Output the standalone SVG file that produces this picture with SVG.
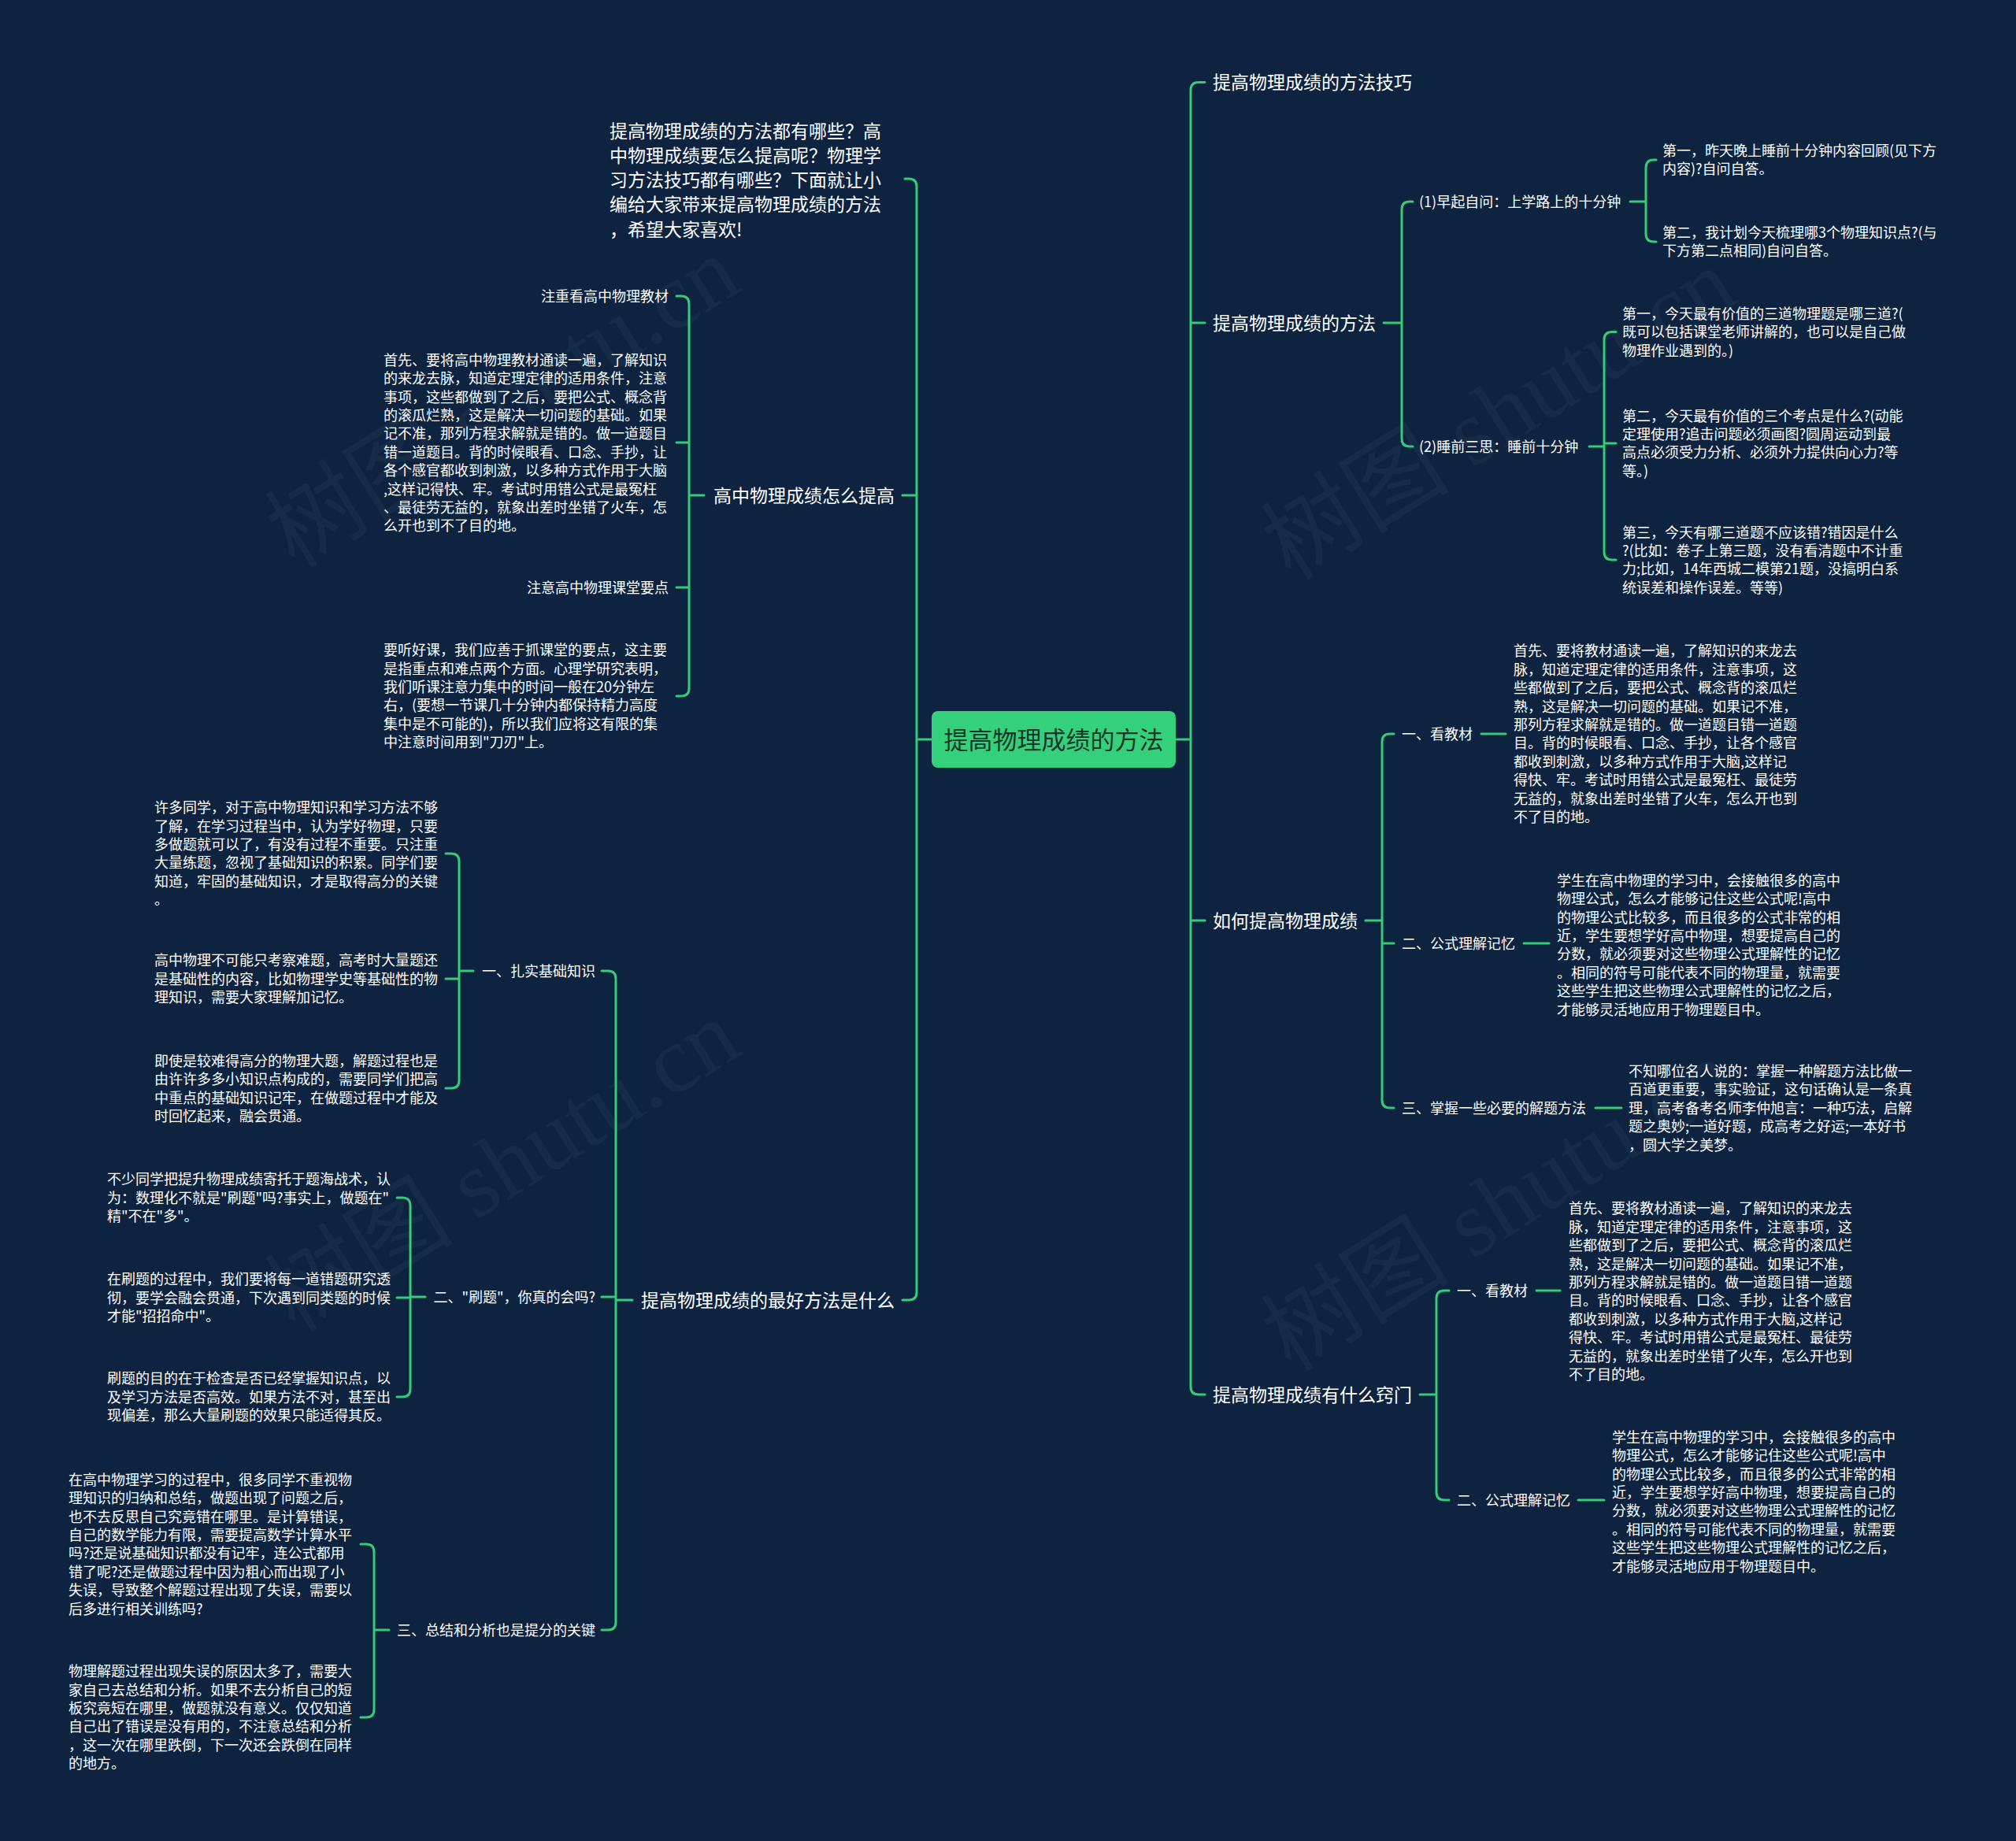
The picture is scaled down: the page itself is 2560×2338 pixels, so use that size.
<svg xmlns="http://www.w3.org/2000/svg" width="2560" height="2338" viewBox="0 0 2560 2338">
<style>
.l{fill:none;stroke:#35cc78;stroke-width:3;stroke-linecap:round}
.t{font-family:'Noto Sans CJK SC','Noto Sans',sans-serif;fill:#ffffff}
.m{font-size:23px}
.s{font-size:18px}
.e{text-anchor:end}
.w{font-family:'Liberation Serif','Noto Sans CJK SC',serif;font-size:120px;fill:#ffffff;fill-opacity:0.04;text-anchor:middle}
</style>
<rect x="0" y="0" width="2560" height="2338" fill="#0d2340"/>
<g id="watermark">
<text class="w" transform="translate(660,545) rotate(-32)">树图 shutu.cn</text>
<text class="w" transform="translate(1925,560) rotate(-32)">树图 shutu.cn</text>
<text class="w" transform="translate(660,1515) rotate(-32)">树图 shutu.cn</text>
<text class="w" transform="translate(1925,1565) rotate(-32)">树图 shutu.cn</text>
</g>
<g id="connectors">
<path class="l" d="M1493 939H1512M1512 939V114.5Q1512 104.5 1522 104.5H1530M1512 410H1530M1512 1169H1530M1512 939V1761Q1512 1771 1522 1771H1530"/>
<path class="l" d="M1183 939H1164M1164 939V237Q1164 227 1154 227H1149M1164 629H1146M1164 939V1641Q1164 1651 1154 1651H1146"/>
<path class="l" d="M1757 410H1780M1780 410V266Q1780 256 1790 256H1794M1780 410V557Q1780 567 1790 567H1794"/>
<path class="l" d="M2070 256H2090M2090 256V213Q2090 203 2100 203H2103M2090 256V297Q2090 307 2100 307H2103"/>
<path class="l" d="M2018 567H2037M2037 567V431.5Q2037 421.5 2047 421.5H2052M2037 563H2052M2037 567V701Q2037 711 2047 711H2052"/>
<path class="l" d="M1734 1169H1755M1755 1169V942Q1755 932 1765 932H1770M1755 1198H1770M1755 1169V1397Q1755 1407 1765 1407H1770"/>
<path class="l" d="M1881 932H1912M1935 1198H1967M2026 1407H2059"/>
<path class="l" d="M1803 1771H1824M1824 1771V1649Q1824 1639 1834 1639H1840M1824 1771V1895Q1824 1905 1834 1905H1840"/>
<path class="l" d="M1951 1639H1981M2004 1905H2037"/>
<path class="l" d="M894 629H875M875 629V386Q875 376 865 376H859M875 562H859M875 746H859M875 629V874Q875 884 865 884H859"/>
<path class="l" d="M803 1651H782M782 1651V1243Q782 1233 772 1233H764M782 1647H764M782 1651V2060Q782 2070 772 2070H764"/>
<path class="l" d="M601 1233H583M583 1233V1094Q583 1084 573 1084H566M583 1243H566M583 1233V1372Q583 1382 573 1382H566"/>
<path class="l" d="M540 1647H521M521 1647V1531Q521 1521 511 1521H504M521 1648H504M521 1647V1764Q521 1774 511 1774H504"/>
<path class="l" d="M494 2070H475M475 2070V1971Q475 1961 465 1961H458M475 2070V2171Q475 2181 465 2181H458"/>
</g>
<g id="root">
<rect x="1183" y="903" width="310" height="72" rx="8" fill="#35d07b"/>
<text x="1338" y="950.5" text-anchor="middle" style="font-family:'Noto Sans CJK SC','Noto Sans',sans-serif;font-size:31px;fill:#17362a">提高物理成绩的方法</text>
</g>
<g id="intro">
<text class="t m" x="774" y="174.5"><tspan x="774">提高物理成绩的方法都有哪些？高</tspan><tspan x="774" dy="31.3">中物理成绩要怎么提高呢？物理学</tspan><tspan x="774" dy="31.3">习方法技巧都有哪些？下面就让小</tspan><tspan x="774" dy="31.3">编给大家带来提高物理成绩的方法</tspan><tspan x="774" dy="31.3">，希望大家喜欢!</tspan></text>
</g>
<g id="n-gzwl">
<text class="t m e" x="1136" y="637.5">高中物理成绩怎么提高</text>
</g>
<g id="n-zzk">
<text class="t s e" x="849" y="382.7">注重看高中物理教材</text>
</g>
<g id="n-zzk-body">
<text class="t s" x="487" y="463.7"><tspan x="487">首先、要将高中物理教材通读一遍，了解知识</tspan><tspan x="487" dy="23.4">的来龙去脉，知道定理定律的适用条件，注意</tspan><tspan x="487" dy="23.4">事项，这些都做到了之后，要把公式、概念背</tspan><tspan x="487" dy="23.4">的滚瓜烂熟，这是解决一切问题的基础。如果</tspan><tspan x="487" dy="23.4">记不准，那列方程求解就是错的。做一道题目</tspan><tspan x="487" dy="23.4">错一道题目。背的时候眼看、口念、手抄，让</tspan><tspan x="487" dy="23.4">各个感官都收到刺激，以多种方式作用于大脑</tspan><tspan x="487" dy="23.4">,这样记得快、牢。考试时用错公式是最冤枉</tspan><tspan x="487" dy="23.4">、最徒劳无益的，就象出差时坐错了火车，怎</tspan><tspan x="487" dy="23.4">么开也到不了目的地。</tspan></text>
</g>
<g id="n-zyk">
<text class="t s e" x="849" y="752.7">注意高中物理课堂要点</text>
</g>
<g id="n-zyk-body">
<text class="t s" x="487" y="832.2"><tspan x="487">要听好课，我们应善于抓课堂的要点，这主要</tspan><tspan x="487" dy="23.4">是指重点和难点两个方面。心理学研究表明，</tspan><tspan x="487" dy="23.4">我们听课注意力集中的时间一般在20分钟左</tspan><tspan x="487" dy="23.4">右，(要想一节课几十分钟内都保持精力高度</tspan><tspan x="487" dy="23.4">集中是不可能的)，所以我们应将这有限的集</tspan><tspan x="487" dy="23.4">中注意时间用到"刀刃"上。</tspan></text>
</g>
<g id="n-best">
<text class="t m e" x="1136" y="1659.5">提高物理成绩的最好方法是什么</text>
</g>
<g id="n-zs">
<text class="t s e" x="756" y="1239.7">一、扎实基础知识</text>
</g>
<g id="n-zs-1">
<text class="t s" x="196" y="1032.2"><tspan x="196">许多同学，对于高中物理知识和学习方法不够</tspan><tspan x="196" dy="23.4">了解，在学习过程当中，认为学好物理，只要</tspan><tspan x="196" dy="23.4">多做题就可以了，有没有过程不重要。只注重</tspan><tspan x="196" dy="23.4">大量练题，忽视了基础知识的积累。同学们要</tspan><tspan x="196" dy="23.4">知道，牢固的基础知识，才是取得高分的关键</tspan><tspan x="196" dy="23.4">。</tspan></text>
</g>
<g id="n-zs-2">
<text class="t s" x="196" y="1226.3"><tspan x="196">高中物理不可能只考察难题，高考时大量题还</tspan><tspan x="196" dy="23.4">是基础性的内容，比如物理学史等基础性的物</tspan><tspan x="196" dy="23.4">理知识，需要大家理解加记忆。</tspan></text>
</g>
<g id="n-zs-3">
<text class="t s" x="196" y="1353.7"><tspan x="196">即使是较难得高分的物理大题，解题过程也是</tspan><tspan x="196" dy="23.4">由许许多多小知识点构成的，需要同学们把高</tspan><tspan x="196" dy="23.4">中重点的基础知识记牢，在做题过程中才能及</tspan><tspan x="196" dy="23.4">时回忆起来，融会贯通。</tspan></text>
</g>
<g id="n-st">
<text class="t s e" x="756" y="1653.7">二、"刷题"，你真的会吗?</text>
</g>
<g id="n-st-1">
<text class="t s" x="136" y="1504.3"><tspan x="136">不少同学把提升物理成绩寄托于题海战术，认</tspan><tspan x="136" dy="23.4">为：数理化不就是"刷题"吗?事实上，做题在"</tspan><tspan x="136" dy="23.4">精"不在"多"。</tspan></text>
</g>
<g id="n-st-2">
<text class="t s" x="136" y="1631.3"><tspan x="136">在刷题的过程中，我们要将每一道错题研究透</tspan><tspan x="136" dy="23.4">彻，要学会融会贯通，下次遇到同类题的时候</tspan><tspan x="136" dy="23.4">才能"招招命中"。</tspan></text>
</g>
<g id="n-st-3">
<text class="t s" x="136" y="1757.3"><tspan x="136">刷题的目的在于检查是否已经掌握知识点，以</tspan><tspan x="136" dy="23.4">及学习方法是否高效。如果方法不对，甚至出</tspan><tspan x="136" dy="23.4">现偏差，那么大量刷题的效果只能适得其反。</tspan></text>
</g>
<g id="n-zj">
<text class="t s e" x="756" y="2076.7">三、总结和分析也是提分的关键</text>
</g>
<g id="n-zj-1">
<text class="t s" x="87" y="1885.7"><tspan x="87">在高中物理学习的过程中，很多同学不重视物</tspan><tspan x="87" dy="23.4">理知识的归纳和总结，做题出现了问题之后，</tspan><tspan x="87" dy="23.4">也不去反思自己究竟错在哪里。是计算错误，</tspan><tspan x="87" dy="23.4">自己的数学能力有限，需要提高数学计算水平</tspan><tspan x="87" dy="23.4">吗?还是说基础知识都没有记牢，连公式都用</tspan><tspan x="87" dy="23.4">错了呢?还是做题过程中因为粗心而出现了小</tspan><tspan x="87" dy="23.4">失误，导致整个解题过程出现了失误，需要以</tspan><tspan x="87" dy="23.4">后多进行相关训练吗?</tspan></text>
</g>
<g id="n-zj-2">
<text class="t s" x="87" y="2129.2"><tspan x="87">物理解题过程出现失误的原因太多了，需要大</tspan><tspan x="87" dy="23.4">家自己去总结和分析。如果不去分析自己的短</tspan><tspan x="87" dy="23.4">板究竟短在哪里，做题就没有意义。仅仅知道</tspan><tspan x="87" dy="23.4">自己出了错误是没有用的，不注意总结和分析</tspan><tspan x="87" dy="23.4">，这一次在哪里跌倒，下一次还会跌倒在同样</tspan><tspan x="87" dy="23.4">的地方。</tspan></text>
</g>
<g id="n-jq">
<text class="t m" x="1540" y="113">提高物理成绩的方法技巧</text>
</g>
<g id="n-ff">
<text class="t m" x="1540" y="418.5">提高物理成绩的方法</text>
</g>
<g id="n-ff-1">
<text class="t s" x="1802" y="262.7">(1)早起自问：上学路上的十分钟</text>
</g>
<g id="n-ff-1a">
<text class="t s" x="2111" y="198"><tspan x="2111">第一，昨天晚上睡前十分钟内容回顾(见下方</tspan><tspan x="2111" dy="23.4">内容)?自问自答。</tspan></text>
</g>
<g id="n-ff-1b">
<text class="t s" x="2111" y="302"><tspan x="2111">第二，我计划今天梳理哪3个物理知识点?(与</tspan><tspan x="2111" dy="23.4">下方第二点相同)自问自答。</tspan></text>
</g>
<g id="n-ff-2">
<text class="t s" x="1802" y="573.7">(2)睡前三思：睡前十分钟</text>
</g>
<g id="n-ff-2a">
<text class="t s" x="2060" y="404.8"><tspan x="2060">第一，今天最有价值的三道物理题是哪三道?(</tspan><tspan x="2060" dy="23.4">既可以包括课堂老师讲解的，也可以是自己做</tspan><tspan x="2060" dy="23.4">物理作业遇到的。)</tspan></text>
</g>
<g id="n-ff-2b">
<text class="t s" x="2060" y="534.6"><tspan x="2060">第二，今天最有价值的三个考点是什么?(动能</tspan><tspan x="2060" dy="23.4">定理使用?追击问题必须画图?圆周运动到最</tspan><tspan x="2060" dy="23.4">高点必须受力分析、必须外力提供向心力?等</tspan><tspan x="2060" dy="23.4">等。)</tspan></text>
</g>
<g id="n-ff-2c">
<text class="t s" x="2060" y="682.6"><tspan x="2060">第三，今天有哪三道题不应该错?错因是什么</tspan><tspan x="2060" dy="23.4">?(比如：卷子上第三题，没有看清题中不计重</tspan><tspan x="2060" dy="23.4">力;比如，14年西城二模第21题，没搞明白系</tspan><tspan x="2060" dy="23.4">统误差和操作误差。等等)</tspan></text>
</g>
<g id="n-rh">
<text class="t m" x="1540" y="1177.5">如何提高物理成绩</text>
</g>
<g id="n-rh-1">
<text class="t s" x="1780" y="938.7">一、看教材</text>
</g>
<g id="n-rh-1b">
<text class="t s" x="1922" y="833.4"><tspan x="1922">首先、要将教材通读一遍，了解知识的来龙去</tspan><tspan x="1922" dy="23.4">脉，知道定理定律的适用条件，注意事项，这</tspan><tspan x="1922" dy="23.4">些都做到了之后，要把公式、概念背的滚瓜烂</tspan><tspan x="1922" dy="23.4">熟，这是解决一切问题的基础。如果记不准，</tspan><tspan x="1922" dy="23.4">那列方程求解就是错的。做一道题目错一道题</tspan><tspan x="1922" dy="23.4">目。背的时候眼看、口念、手抄，让各个感官</tspan><tspan x="1922" dy="23.4">都收到刺激，以多种方式作用于大脑,这样记</tspan><tspan x="1922" dy="23.4">得快、牢。考试时用错公式是最冤枉、最徒劳</tspan><tspan x="1922" dy="23.4">无益的，就象出差时坐错了火车，怎么开也到</tspan><tspan x="1922" dy="23.4">不了目的地。</tspan></text>
</g>
<g id="n-rh-2">
<text class="t s" x="1780" y="1204.7">二、公式理解记忆</text>
</g>
<g id="n-rh-2b">
<text class="t s" x="1977" y="1124.8"><tspan x="1977">学生在高中物理的学习中，会接触很多的高中</tspan><tspan x="1977" dy="23.4">物理公式，怎么才能够记住这些公式呢!高中</tspan><tspan x="1977" dy="23.4">的物理公式比较多，而且很多的公式非常的相</tspan><tspan x="1977" dy="23.4">近，学生要想学好高中物理，想要提高自己的</tspan><tspan x="1977" dy="23.4">分数，就必须要对这些物理公式理解性的记忆</tspan><tspan x="1977" dy="23.4">。相同的符号可能代表不同的物理量，就需要</tspan><tspan x="1977" dy="23.4">这些学生把这些物理公式理解性的记忆之后，</tspan><tspan x="1977" dy="23.4">才能够灵活地应用于物理题目中。</tspan></text>
</g>
<g id="n-rh-3">
<text class="t s" x="1780" y="1413.7">三、掌握一些必要的解题方法</text>
</g>
<g id="n-rh-3b">
<text class="t s" x="2068" y="1366.9"><tspan x="2068">不知哪位名人说的：掌握一种解题方法比做一</tspan><tspan x="2068" dy="23.4">百道更重要，事实验证，这句话确认是一条真</tspan><tspan x="2068" dy="23.4">理，高考备考名师李仲旭言：一种巧法，启解</tspan><tspan x="2068" dy="23.4">题之奥妙;一道好题，成高考之好运;一本好书</tspan><tspan x="2068" dy="23.4">，圆大学之美梦。</tspan></text>
</g>
<g id="n-qm">
<text class="t m" x="1540" y="1779.5">提高物理成绩有什么窍门</text>
</g>
<g id="n-qm-1">
<text class="t s" x="1850" y="1645.7">一、看教材</text>
</g>
<g id="n-qm-1b">
<text class="t s" x="1992" y="1541.4"><tspan x="1992">首先、要将教材通读一遍，了解知识的来龙去</tspan><tspan x="1992" dy="23.4">脉，知道定理定律的适用条件，注意事项，这</tspan><tspan x="1992" dy="23.4">些都做到了之后，要把公式、概念背的滚瓜烂</tspan><tspan x="1992" dy="23.4">熟，这是解决一切问题的基础。如果记不准，</tspan><tspan x="1992" dy="23.4">那列方程求解就是错的。做一道题目错一道题</tspan><tspan x="1992" dy="23.4">目。背的时候眼看、口念、手抄，让各个感官</tspan><tspan x="1992" dy="23.4">都收到刺激，以多种方式作用于大脑,这样记</tspan><tspan x="1992" dy="23.4">得快、牢。考试时用错公式是最冤枉、最徒劳</tspan><tspan x="1992" dy="23.4">无益的，就象出差时坐错了火车，怎么开也到</tspan><tspan x="1992" dy="23.4">不了目的地。</tspan></text>
</g>
<g id="n-qm-2">
<text class="t s" x="1850" y="1911.7">二、公式理解记忆</text>
</g>
<g id="n-qm-2b">
<text class="t s" x="2047" y="1831.8"><tspan x="2047">学生在高中物理的学习中，会接触很多的高中</tspan><tspan x="2047" dy="23.4">物理公式，怎么才能够记住这些公式呢!高中</tspan><tspan x="2047" dy="23.4">的物理公式比较多，而且很多的公式非常的相</tspan><tspan x="2047" dy="23.4">近，学生要想学好高中物理，想要提高自己的</tspan><tspan x="2047" dy="23.4">分数，就必须要对这些物理公式理解性的记忆</tspan><tspan x="2047" dy="23.4">。相同的符号可能代表不同的物理量，就需要</tspan><tspan x="2047" dy="23.4">这些学生把这些物理公式理解性的记忆之后，</tspan><tspan x="2047" dy="23.4">才能够灵活地应用于物理题目中。</tspan></text>
</g>
</svg>
